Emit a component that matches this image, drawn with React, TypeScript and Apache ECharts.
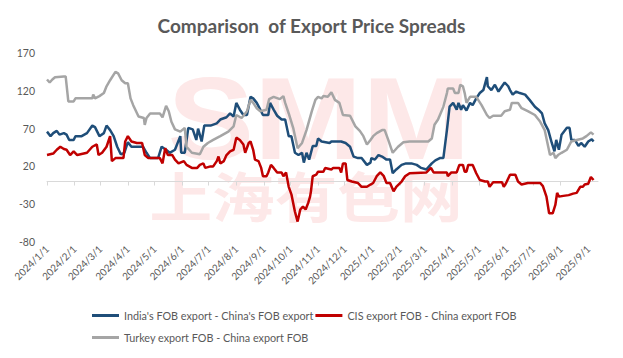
import React, { useEffect, useRef } from "react";
import * as echarts from "echarts";

const titleText = "Comparison  of Export Price Spreads";
const seriesNames = [
  "India's FOB export - China's FOB export",
  "CIS export FOB - China export FOB",
  "Turkey export FOB - China export FOB",
];
const seriesColors = ["#1f4e79", "#c00000", "#a5a5a5"];
const yTickLabels = [-80, -30, 20, 70, 120, 170];
const axisStart = "2024/1/1";
const axisEnd = "2025/9/12";

const indiaSpread: [string, number][] = [
  ["2024/1/1", 66], ["2024/1/5", 60], ["2024/1/8", 64], ["2024/1/12", 67], ["2024/1/15", 62], ["2024/1/20", 64], ["2024/1/23", 62], ["2024/1/26", 55], ["2024/1/31", 55],
  ["2024/2/2", 60], ["2024/2/9", 60], ["2024/2/15", 64], ["2024/2/21", 74], ["2024/2/24", 72], ["2024/2/29", 60],
  ["2024/3/5", 64], ["2024/3/8", 74], ["2024/3/12", 68], ["2024/3/16", 60], ["2024/3/20", 46], ["2024/3/24", 36], ["2024/3/28", 38],
  ["2024/4/1", 52], ["2024/4/5", 46], ["2024/4/18", 46], ["2024/4/22", 38], ["2024/4/26", 31],
  ["2024/5/5", 31], ["2024/5/9", 46], ["2024/5/14", 42], ["2024/5/18", 38], ["2024/5/24", 42], ["2024/5/30", 60], ["2024/5/31", 38],
  ["2024/6/4", 38], ["2024/6/8", 71], ["2024/6/13", 69], ["2024/6/17", 55], ["2024/6/19", 70], ["2024/6/23", 53], ["2024/6/26", 74],
  ["2024/7/3", 74], ["2024/7/10", 77], ["2024/7/14", 82], ["2024/7/21", 85], ["2024/7/25", 90], ["2024/7/29", 86],
  ["2024/8/1", 104], ["2024/8/5", 95], ["2024/8/9", 88], ["2024/8/13", 88], ["2024/8/17", 112], ["2024/8/20", 110], ["2024/8/24", 104], ["2024/8/28", 95], ["2024/8/31", 88],
  ["2024/9/6", 88], ["2024/9/8", 104], ["2024/9/12", 95], ["2024/9/16", 87], ["2024/9/21", 82], ["2024/9/25", 82], ["2024/9/29", 60],
  ["2024/10/2", 60], ["2024/10/6", 38], ["2024/10/10", 35], ["2024/10/14", 38], ["2024/10/16", 25], ["2024/10/19", 38], ["2024/10/22", 29], ["2024/10/26", 47], ["2024/10/30", 47],
  ["2024/11/1", 57], ["2024/11/5", 53], ["2024/11/14", 51], ["2024/11/16", 53], ["2024/11/27", 53],
  ["2024/12/2", 51], ["2024/12/7", 46], ["2024/12/11", 33], ["2024/12/16", 31], ["2024/12/20", 31], ["2024/12/24", 25], ["2024/12/26", 22], ["2024/12/30", 25], ["2024/12/31", 31],
  ["2025/1/4", 29], ["2025/1/8", 35], ["2025/1/12", 33], ["2025/1/17", 29], ["2025/1/21", 29], ["2025/1/24", 11], ["2025/1/28", 16],
  ["2025/2/3", 22], ["2025/2/8", 24], ["2025/2/14", 24], ["2025/2/20", 22], ["2025/2/25", 18],
  ["2025/3/3", 16], ["2025/3/9", 24], ["2025/3/13", 28], ["2025/3/18", 31], ["2025/3/22", 31], ["2025/3/26", 68], ["2025/3/29", 99],
  ["2025/4/2", 104], ["2025/4/6", 95], ["2025/4/8", 104], ["2025/4/11", 95], ["2025/4/13", 101], ["2025/4/17", 94], ["2025/4/21", 104], ["2025/4/24", 101], ["2025/4/28", 110],
  ["2025/5/2", 117], ["2025/5/6", 121], ["2025/5/10", 138], ["2025/5/11", 126], ["2025/5/15", 121], ["2025/5/19", 128], ["2025/5/23", 119], ["2025/5/27", 126], ["2025/5/30", 131],
  ["2025/6/3", 126], ["2025/6/5", 121], ["2025/6/8", 115], ["2025/6/12", 119], ["2025/6/16", 117], ["2025/6/22", 115], ["2025/6/27", 108],
  ["2025/7/3", 99], ["2025/7/7", 95], ["2025/7/11", 90], ["2025/7/14", 77], ["2025/7/18", 68], ["2025/7/22", 51], ["2025/7/25", 40], ["2025/7/27", 55], ["2025/7/30", 42],
  ["2025/8/2", 62], ["2025/8/8", 71], ["2025/8/11", 71], ["2025/8/13", 55], ["2025/8/17", 55], ["2025/8/21", 47], ["2025/8/24", 51], ["2025/8/28", 46],
  ["2025/9/1", 53], ["2025/9/5", 56], ["2025/9/7", 53],
];

const cisSpread: [string, number][] = [
  ["2024/1/1", 35], ["2024/1/8", 37], ["2024/1/12", 42], ["2024/1/16", 46], ["2024/1/20", 43], ["2024/1/23", 42], ["2024/1/27", 35], ["2024/1/31", 40],
  ["2024/2/4", 35], ["2024/2/15", 38], ["2024/2/21", 46], ["2024/2/26", 49], ["2024/2/28", 35],
  ["2024/3/3", 38], ["2024/3/8", 46], ["2024/3/12", 60], ["2024/3/14", 27], ["2024/3/18", 31], ["2024/3/27", 31], ["2024/3/29", 53],
  ["2024/4/1", 60], ["2024/4/5", 53], ["2024/4/11", 51], ["2024/4/17", 51], ["2024/4/20", 35], ["2024/4/24", 31],
  ["2024/5/7", 31], ["2024/5/10", 24], ["2024/5/13", 44], ["2024/5/16", 35], ["2024/5/21", 35], ["2024/5/24", 29], ["2024/5/28", 24],
  ["2024/6/3", 27], ["2024/6/6", 22], ["2024/6/12", 18], ["2024/6/18", 18], ["2024/6/21", 22], ["2024/6/25", 24], ["2024/6/27", 18],
  ["2024/7/3", 20], ["2024/7/6", 20], ["2024/7/10", 27], ["2024/7/12", 33], ["2024/7/14", 24], ["2024/7/18", 27], ["2024/7/21", 35], ["2024/7/25", 40], ["2024/7/29", 42],
  ["2024/8/1", 58], ["2024/8/5", 55], ["2024/8/9", 49], ["2024/8/11", 38], ["2024/8/15", 51], ["2024/8/17", 53], ["2024/8/20", 42], ["2024/8/22", 29], ["2024/8/26", 27], ["2024/8/29", 18], ["2024/8/31", 7],
  ["2024/9/4", 7], ["2024/9/6", 12], ["2024/9/9", 22], ["2024/9/12", 18], ["2024/9/16", 12], ["2024/9/21", 12], ["2024/9/23", 7], ["2024/9/26", 12], ["2024/9/29", -7],
  ["2024/10/2", -17], ["2024/10/6", -40], ["2024/10/9", -53], ["2024/10/12", -37], ["2024/10/15", -33], ["2024/10/18", -37], ["2024/10/21", -28], ["2024/10/23", -20], ["2024/10/24", -13], ["2024/10/26", 7], ["2024/10/30", 9],
  ["2024/11/1", 13], ["2024/11/7", 13], ["2024/11/9", 18], ["2024/11/16", 16], ["2024/11/18", 18], ["2024/11/25", 18], ["2024/11/27", 12], ["2024/11/29", 24],
  ["2024/12/2", 24], ["2024/12/4", 2], ["2024/12/9", 0], ["2024/12/16", -2], ["2024/12/20", -7], ["2024/12/26", -7], ["2024/12/30", -4],
  ["2025/1/2", -2], ["2025/1/6", 7], ["2025/1/10", 12], ["2025/1/14", 7], ["2025/1/17", -2], ["2025/1/21", -2], ["2025/1/25", -13], ["2025/1/28", -7],
  ["2025/2/3", 0], ["2025/2/7", 7], ["2025/2/12", 11],
  ["2025/3/3", 12], ["2025/3/8", 18], ["2025/3/11", 12], ["2025/3/26", 12], ["2025/3/27", 7], ["2025/3/31", 12],
  ["2025/4/6", 12], ["2025/4/9", 22], ["2025/4/13", 22], ["2025/4/15", 13], ["2025/4/17", 13], ["2025/4/19", 22], ["2025/4/24", 22], ["2025/4/28", 11],
  ["2025/5/2", 2], ["2025/5/8", 0], ["2025/5/11", 0], ["2025/5/13", -7], ["2025/5/17", -1], ["2025/5/27", -1], ["2025/5/29", -7],
  ["2025/6/1", -1], ["2025/6/5", 9], ["2025/6/11", 9], ["2025/6/14", 0], ["2025/6/18", -4], ["2025/6/25", -2],
  ["2025/7/9", -2], ["2025/7/12", -6], ["2025/7/16", -20], ["2025/7/19", -42], ["2025/7/23", -42], ["2025/7/26", -31], ["2025/7/28", -15], ["2025/7/30", -20],
  ["2025/8/4", -19], ["2025/8/10", -18], ["2025/8/15", -16], ["2025/8/19", -15], ["2025/8/23", -7], ["2025/8/26", -7], ["2025/8/28", -4],
  ["2025/9/1", -3], ["2025/9/4", 6], ["2025/9/7", 2],
];

const turkeySpread: [string, number][] = [
  ["2024/1/1", 135], ["2024/1/4", 131], ["2024/1/7", 135], ["2024/1/10", 138], ["2024/1/20", 139], ["2024/1/22", 139], ["2024/1/25", 106], ["2024/1/31", 106],
  ["2024/2/2", 110], ["2024/2/21", 110], ["2024/2/22", 115], ["2024/2/24", 110], ["2024/2/29", 113],
  ["2024/3/5", 117], ["2024/3/8", 126], ["2024/3/12", 134], ["2024/3/18", 145], ["2024/3/21", 143], ["2024/3/25", 134], ["2024/3/29", 130],
  ["2024/4/1", 130], ["2024/4/4", 110], ["2024/4/7", 101], ["2024/4/13", 86], ["2024/4/19", 84], ["2024/4/20", 75], ["2024/4/22", 84], ["2024/4/26", 90],
  ["2024/5/7", 90], ["2024/5/10", 85], ["2024/5/14", 100], ["2024/5/17", 93], ["2024/5/20", 79], ["2024/5/24", 69], ["2024/5/30", 66],
  ["2024/6/4", 71], ["2024/6/6", 46], ["2024/6/12", 38], ["2024/6/21", 36], ["2024/6/25", 46], ["2024/6/30", 51],
  ["2024/7/6", 55], ["2024/7/14", 60], ["2024/7/23", 66], ["2024/7/29", 73],
  ["2024/8/1", 88], ["2024/8/7", 84], ["2024/8/13", 93], ["2024/8/17", 108], ["2024/8/20", 104], ["2024/8/24", 97], ["2024/8/28", 93],
  ["2024/9/4", 95], ["2024/9/7", 109], ["2024/9/12", 112], ["2024/9/19", 109], ["2024/9/23", 113], ["2024/9/25", 104], ["2024/9/29", 90],
  ["2024/10/4", 71], ["2024/10/9", 44], ["2024/10/14", 51], ["2024/10/19", 68], ["2024/10/25", 93], ["2024/10/29", 108],
  ["2024/11/1", 112], ["2024/11/5", 110], ["2024/11/7", 113], ["2024/11/12", 112], ["2024/11/16", 118], ["2024/11/20", 108], ["2024/11/25", 104], ["2024/11/29", 88],
  ["2024/12/7", 87], ["2024/12/13", 73], ["2024/12/18", 67], ["2024/12/22", 60], ["2024/12/26", 49], ["2024/12/30", 55],
  ["2025/1/2", 60], ["2025/1/6", 64], ["2025/1/12", 68], ["2025/1/15", 68], ["2025/1/19", 55], ["2025/1/24", 38], ["2025/1/30", 46],
  ["2025/2/5", 52], ["2025/2/12", 53],
  ["2025/3/5", 53], ["2025/3/9", 57], ["2025/3/12", 75], ["2025/3/16", 82], ["2025/3/22", 99], ["2025/3/26", 117], ["2025/3/27", 123],
  ["2025/4/2", 123], ["2025/4/4", 117], ["2025/4/8", 117], ["2025/4/10", 128], ["2025/4/13", 126], ["2025/4/15", 117], ["2025/4/17", 104], ["2025/4/21", 112], ["2025/4/28", 112],
  ["2025/5/4", 101], ["2025/5/10", 88], ["2025/5/13", 84], ["2025/5/17", 87], ["2025/5/26", 87], ["2025/5/30", 93],
  ["2025/6/5", 95], ["2025/6/7", 104], ["2025/6/14", 104], ["2025/6/18", 97], ["2025/6/25", 93],
  ["2025/7/3", 88], ["2025/7/9", 79], ["2025/7/14", 68], ["2025/7/18", 46], ["2025/7/20", 35], ["2025/7/24", 38], ["2025/7/26", 31], ["2025/7/29", 35],
  ["2025/8/2", 38], ["2025/8/8", 42], ["2025/8/13", 53], ["2025/8/19", 55], ["2025/8/26", 57], ["2025/8/30", 60],
  ["2025/9/4", 65], ["2025/9/7", 62],
];

function buildCategories(start: string, end: string): string[] {
  const [sy, sm, sd] = start.split("/").map(Number);
  const [ey, em, ed] = end.split("/").map(Number);
  const cur = new Date(Date.UTC(sy, sm - 1, sd));
  const last = Date.UTC(ey, em - 1, ed);
  const out: string[] = [];
  while (cur.getTime() <= last) {
    out.push(`${cur.getUTCFullYear()}/${cur.getUTCMonth() + 1}/${cur.getUTCDate()}`);
    cur.setUTCDate(cur.getUTCDate() + 1);
  }
  return out;
}

const isMonthStart = (_i: number, v: string) => v.split("/")[2] === "1";

export default function App() {
  const ref = useRef<HTMLDivElement>(null);
  useEffect(() => {
    if (!ref.current) return;
    const chart = echarts.init(ref.current, undefined, { renderer: "svg" });
    const categories = buildCategories(axisStart, axisEnd);
    const yMin = yTickLabels[0];
    const yMax = yTickLabels[yTickLabels.length - 1];
    const yStep = yTickLabels[1] - yTickLabels[0];
    const textColor = "#595959";
    const font = "Lato";
    const datasets = [indiaSpread, cisSpread, turkeySpread];
    const legendCommon = {
      left: 92,
      padding: 0,
      orient: "horizontal",
      icon: "rect",
      itemWidth: 27,
      itemHeight: 3,
      itemGap: 2,
      textStyle: { fontSize: 10.8, color: textColor, fontFamily: font },
    };
    chart.setOption({
      animation: false,
      backgroundColor: "#ffffff",
      title: {
        text: titleText,
        left: "center",
        top: 11,
        textStyle: { fontSize: 19, fontWeight: "bold", color: textColor, fontFamily: font },
      },
      graphic: [
        {
          type: "text",
          x: 319,
          y: 119,
          scaleX: 1.12,
          z: -10,
          silent: true,
          style: {
            text: "SMM",
            font: 'bold 116px "Liberation Sans"',
            fill: "#fde8e8",
            textAlign: "center",
            textVerticalAlign: "middle",
          },
        },
        {
          type: "text",
          x: 306,
          y: 194,
          scaleX: 1.16,
          z: -10,
          silent: true,
          style: {
            text: "上海有色网",
            font: 'bold 54px "Noto Sans CJK SC"',
            fill: "#fde8e8",
            textAlign: "center",
            textVerticalAlign: "middle",
          },
        },
      ],
      legend: [
        { ...legendCommon, data: [seriesNames[0], seriesNames[1]], top: 310 },
        { ...legendCommon, data: [seriesNames[2]], top: 332 },
      ],
      grid: { left: 47, right: 25, top: 53, bottom: 116, containLabel: false },
      xAxis: [
        {
          type: "category",
          data: categories,
          boundaryGap: false,
          position: "bottom",
          axisLine: { show: false, onZero: false },
          axisTick: { show: false },
          splitLine: { show: false },
          axisLabel: {
            interval: isMonthStart,
            rotate: 45,
            margin: 5,
            fontSize: 10,
            color: textColor,
            fontFamily: font,
          },
        },
        {
          type: "category",
          data: categories,
          boundaryGap: false,
          position: "bottom",
          axisLine: { show: true, onZero: true, onZeroAxisIndex: 0, lineStyle: { color: "#d9d9d9", width: 1 } },
          axisTick: { show: true, interval: isMonthStart, length: 4, lineStyle: { color: "#d9d9d9" } },
          axisLabel: { show: false },
          splitLine: { show: false },
        },
      ],
      yAxis: [
        {
          type: "value",
          min: yMin,
          max: yMax,
          axisLine: { show: false },
          axisTick: { show: false },
          axisLabel: { show: false },
          splitLine: { show: false },
        },
        {
          type: "value",
          position: "left",
          min: 0,
          max: yMax - yMin,
          interval: yStep,
          axisLine: { show: false },
          axisTick: { show: false },
          splitLine: { show: false },
          axisLabel: {
            margin: 12,
            fontSize: 10.5,
            color: textColor,
            fontFamily: font,
            formatter: (v: number) => String(v + yMin),
          },
        },
      ],
      series: datasets.map((d, i) => ({
        name: seriesNames[i],
        type: "line",
        xAxisIndex: 0,
        yAxisIndex: 0,
        data: d,
        showSymbol: false,
        symbol: "none",
        color: seriesColors[i],
        lineStyle: { width: 2.5, color: seriesColors[i] },
        z: 3,
      })),
    });
    return () => chart.dispose();
  }, []);
  return (
    <div
      ref={ref}
      style={{ position: "fixed", left: 0, top: 0, width: 623, height: 358, background: "#fff" }}
    />
  );
}
